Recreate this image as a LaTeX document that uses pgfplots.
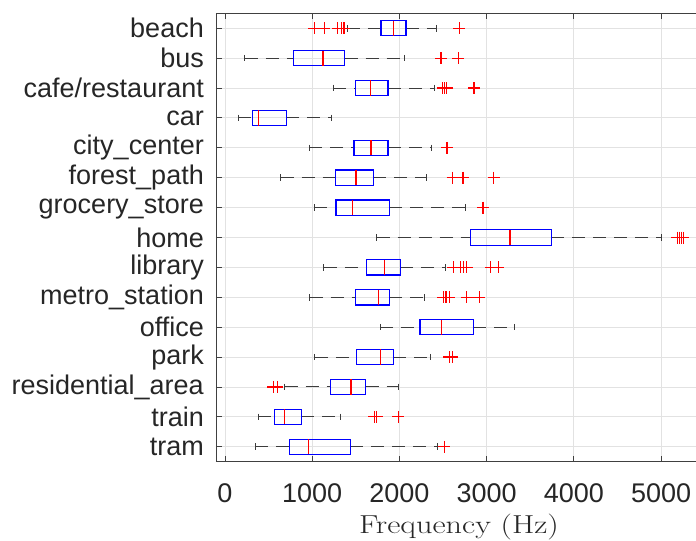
\documentclass[border=0pt]{standalone}
\usepackage{fontspec}
\usepackage{pgfplots}
\pgfplotsset{compat=1.18}
\usepgfplotslibrary{statistics}
\newfontfamily\arialfont{Liberation Sans}
\definecolor{axgray}{RGB}{64,64,64}
\definecolor{gridgray}{RGB}{226,226,226}
\definecolor{txtgray}{RGB}{38,38,38}
\definecolor{wgray}{RGB}{60,60,60}
\pgfplotsset{
  mybox/.style={blue, mark=+, mark size=6bp,
    mark options={red, solid, line width=1.2bp}},
}
\begin{document}
\begin{tikzpicture}
\useasboundingbox (-216bp,-79.3bp) rectangle (480bp,461.7bp);
\begin{axis}[
  at={(0,0)}, anchor=south west,
  scale only axis, width=480bp, height=448.4bp,
  xmin=-103, xmax=5400,
  ymin=0.5, ymax=15.5, y dir=reverse,
  axis x line*=box, axis y line*=left,
  axis line style={axgray, line width=0.9bp},
  tick align=inside, major tick length=6bp,
  tick style={axgray, line width=0.9bp},
  grid=major, major grid style={gridgray, line width=0.9bp},
  xtick={0,1000,2000,3000,4000,5000},
  ytick={1,...,15},
  yticklabels={beach,bus,cafe/restaurant,car,city\_center,forest\_path,grocery\_store,home,library,metro\_station,office,park,residential\_area,train,tram},
  ticklabel style={font=\arialfont\fontsize{27bp}{31bp}\selectfont, text=txtgray},
  /pgf/number format/assume math mode=true,
  /pgf/number format/1000 sep={},
  xticklabel style={anchor=center, yshift=-31.5bp},
  yticklabel style={anchor=east, inner xsep=0pt, xshift=-12bp},
  xlabel={\scalebox{1.24}[1]{Frequency (Hz)}},
  xlabel style={font=\fontsize{26bp}{30bp}\selectfont, text=txtgray,
    at={(axis description cs:0.5,0)}, anchor=center, yshift=-65bp, xshift=3bp},
  boxplot/draw direction=x,
  boxplot/box extend=0.51,
  boxplot/whisker extend=0.22,
  boxplot/every box/.style={draw=blue, line width=1.2bp},
  boxplot/every median/.style={draw=red, line width=1.2bp},
  boxplot/draw/lower whisker/.code={%
    \draw[wgray, line width=1bp, dash pattern=on 13bp off 8bp]
      (boxplot box cs:\pgfplotsboxplotvalue{lower whisker},0.5) --
      (boxplot box cs:\pgfplotsboxplotvalue{lower quartile},0.5);
    \draw[wgray, line width=1bp]
      (boxplot whisker cs:\pgfplotsboxplotvalue{lower whisker},0) --
      (boxplot whisker cs:\pgfplotsboxplotvalue{lower whisker},1);
  },
  boxplot/draw/upper whisker/.code={%
    \draw[wgray, line width=1bp, dash pattern=on 13bp off 8bp]
      (boxplot box cs:\pgfplotsboxplotvalue{upper quartile},0.5) --
      (boxplot box cs:\pgfplotsboxplotvalue{upper whisker},0.5);
    \draw[wgray, line width=1bp]
      (boxplot whisker cs:\pgfplotsboxplotvalue{upper whisker},0) --
      (boxplot whisker cs:\pgfplotsboxplotvalue{upper whisker},1);
  },
]
% 1 beach
\addplot[mybox, boxplot prepared={draw position=1, lower whisker=1400, lower quartile=1789, median=1930, upper quartile=2076, upper whisker=2424}]
  table[row sep=\\, y index=0]{data\\1024\\1139\\1292\\1338\\1365\\2687\\};
% 2 bus
\addplot[mybox, boxplot prepared={draw position=2, lower whisker=229, lower quartile=784, median=1124, upper quartile=1372, upper whisker=2057}]
  table[row sep=\\, y index=0]{data\\2477\\2676\\};
% 3 cafe/restaurant
\addplot[mybox, boxplot prepared={draw position=3, lower whisker=1242, lower quartile=1495, median=1667, upper quartile=1869, upper whisker=2400}]
  table[row sep=\\, y index=0]{data\\2496\\2520\\2542\\2856\\};
% 4 car
\addplot[mybox, boxplot prepared={draw position=4, lower whisker=153, lower quartile=313, median=382, upper quartile=703, upper whisker=1223}]
  coordinates {};
% 5 city_center
\addplot[mybox, boxplot prepared={draw position=5, lower whisker=967, lower quartile=1479, median=1674, upper quartile=1869, upper whisker=2362}]
  table[row sep=\\, y index=0]{data\\2546\\};
% 6 forest_path
\addplot[mybox, boxplot prepared={draw position=6, lower whisker=638, lower quartile=1269, median=1502, upper quartile=1701, upper whisker=2316}]
  table[row sep=\\, y index=0]{data\\2611\\2729\\3081\\};
% 7 grocery_store
\addplot[mybox, boxplot prepared={draw position=7, lower whisker=1024, lower quartile=1273, median=1464, upper quartile=1884, upper whisker=2756}]
  table[row sep=\\, y index=0]{data\\2959\\};
% 8 home
\addplot[mybox, boxplot prepared={draw position=8, lower whisker=1739, lower quartile=2817, median=3268, upper quartile=3742, upper whisker=5004}]
  table[row sep=\\, y index=0]{data\\5185\\5210\\5235\\5255\\};
% 9 library
\addplot[mybox, boxplot prepared={draw position=9, lower whisker=1135, lower quartile=1625, median=1827, upper quartile=2011, upper whisker=2531}]
  table[row sep=\\, y index=0]{data\\2618\\2700\\2733\\2771\\3047\\3134\\};
% 10 metro_station
\addplot[mybox, boxplot prepared={draw position=10, lower whisker=971, lower quartile=1499, median=1758, upper quartile=1884, upper whisker=2286}]
  table[row sep=\\, y index=0]{data\\2504\\2534\\2572\\2771\\2917\\};
% 11 office
\addplot[mybox, boxplot prepared={draw position=11, lower whisker=1778, lower quartile=2236, median=2481, upper quartile=2848, upper whisker=3322}]
  coordinates {};
% 12 park
\addplot[mybox, boxplot prepared={draw position=12, lower whisker=1032, lower quartile=1510, median=1781, upper quartile=1930, upper whisker=2355}]
  table[row sep=\\, y index=0]{data\\2572\\2607\\};
% 13 residential_area
\addplot[mybox, boxplot prepared={draw position=13, lower whisker=684, lower quartile=1212, median=1445, upper quartile=1613, upper whisker=1995}]
  table[row sep=\\, y index=0]{data\\554\\600\\};
% 14 train
\addplot[mybox, boxplot prepared={draw position=14, lower whisker=382, lower quartile=566, median=680, upper quartile=875, upper whisker=1327}]
  table[row sep=\\, y index=0]{data\\1712\\1739\\1987\\};
% 15 tram
\addplot[mybox, boxplot prepared={draw position=15, lower whisker=348, lower quartile=742, median=960, upper quartile=1437, upper whisker=2431}]
  table[row sep=\\, y index=0]{data\\2515\\};
\end{axis}
\end{tikzpicture}
\end{document}
